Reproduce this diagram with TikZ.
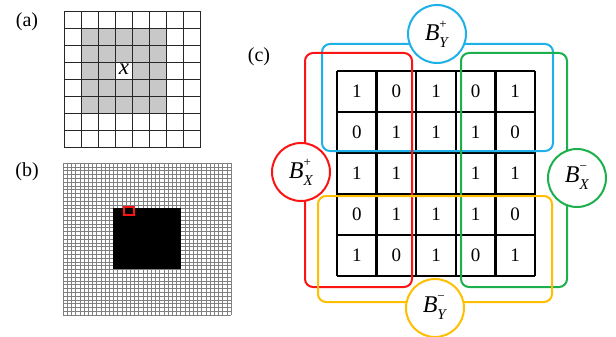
\documentclass[tikz,border=0pt]{standalone}
\usepackage{fontspec}
\setmainfont{Liberation Serif}
\newcommand{\blab}[2]{\textit{B}\rlap{\raisebox{0.5em}{\fontsize{13}{13}\selectfont #1}}\raisebox{-0.3em}{\fontsize{15}{15}\selectfont\textit{#2}}}
\definecolor{cblue}{RGB}{30,176,232}
\definecolor{cred}{RGB}{250,20,20}
\definecolor{cgreen}{RGB}{28,176,76}
\definecolor{cyellow}{RGB}{255,190,0}
\definecolor{agray}{RGB}{200,200,200}
\begin{document}
\begin{tikzpicture}[x=1pt,y=-1pt,
  panel/.style={font=\fontsize{20}{20}\selectfont},
  agrid/.style={draw=black!85,line width=1.8pt},
  bgrid/.style={draw=black!50,line width=0.5pt},
  cgrid/.style={draw=black,line width=2.3pt},
  num/.style={font=\fontsize{19}{19}\selectfont},
  grp/.style={line width=2pt,rounded corners=8pt},
  bubble/.style={circle,draw,fill=white,line width=2pt,minimum size=58pt,inner sep=0pt,font=\fontsize{24}{24}\selectfont}]
\useasboundingbox (0,0) rectangle (616,337);

% (a)
\node[panel] (la) at (27,22) {(a)};
\def\aw{17}\def\ah{17}
\def\ax{64.5}\def\ay{11.5}
\fill[agray] (\ax+\aw,\ay+\ah) rectangle (\ax+6*\aw,\ay+6*\ah);
\fill[white] (\ax+3*\aw,\ay+3*\ah) rectangle (\ax+4*\aw,\ay+4*\ah);
\foreach \i in {0,...,8}{
  \draw[agrid] (\ax+\i*\aw,\ay) -- (\ax+\i*\aw,\ay+8*\ah);
  \draw[agrid] (\ax,\ay+\i*\ah) -- (\ax+8*\aw,\ay+\i*\ah);
}
\node[font=\fontsize{23}{23}\selectfont] (xa) at (\ax+3.5*\aw,\ay+3.4*\ah) {\textit{x}};

% (b)
\node[panel] (lb) at (27,172) {(b)};
\foreach \i in {0,...,40}{
  \draw[bgrid] (63+\i*4.2,163) -- (63+\i*4.2,315);
  \draw[bgrid] (63,163+\i*3.8) -- (231,163+\i*3.8);
}
\fill[black] (113,208) rectangle (181,269);
\draw[cred,line width=1.2pt] (124,207) rectangle (134,215);

% (c)
\node[panel] (lc) at (259,57) {(c)};
\def\cw{39.6}\def\ch{41}
\foreach \row [count=\r from 0] in {{1,0,1,0,1},{0,1,1,1,0},{1,1,,1,1},{0,1,1,1,0},{1,0,1,0,1}}{
  \foreach \v [count=\c from 0] in \row {
    \node[num] (n\r\c) at (337+\c*\cw+0.5*\cw,71+\r*\ch+0.5*\ch) {\v};
  }
}
\foreach \i in {0,...,5}{
  \draw[cgrid] (337+\i*\cw,71) -- (337+\i*\cw,71+5*\ch);
  \draw[cgrid] (337,71+\i*\ch) -- (337+5*\cw,71+\i*\ch);
}
\draw[grp,cblue] (322,44) rectangle (553,151);
\draw[grp,cred] (305,53) rectangle (412,287);
\draw[grp,cgreen] (461,53) rectangle (567,287);
\draw[grp,cyellow] (318,196) rectangle (552,302);

\node[bubble,draw=cblue] (byp) at (437,34) {\blab{+}{Y}};
\node[bubble,draw=cred] (bxp) at (301,172) {\blab{+}{X}};
\node[bubble,draw=cgreen] (bxm) at (577,178) {\blab{−}{X}};
\node[bubble,draw=cyellow] (bym) at (435,308) {\blab{−}{Y}};
\end{tikzpicture}
\end{document}
